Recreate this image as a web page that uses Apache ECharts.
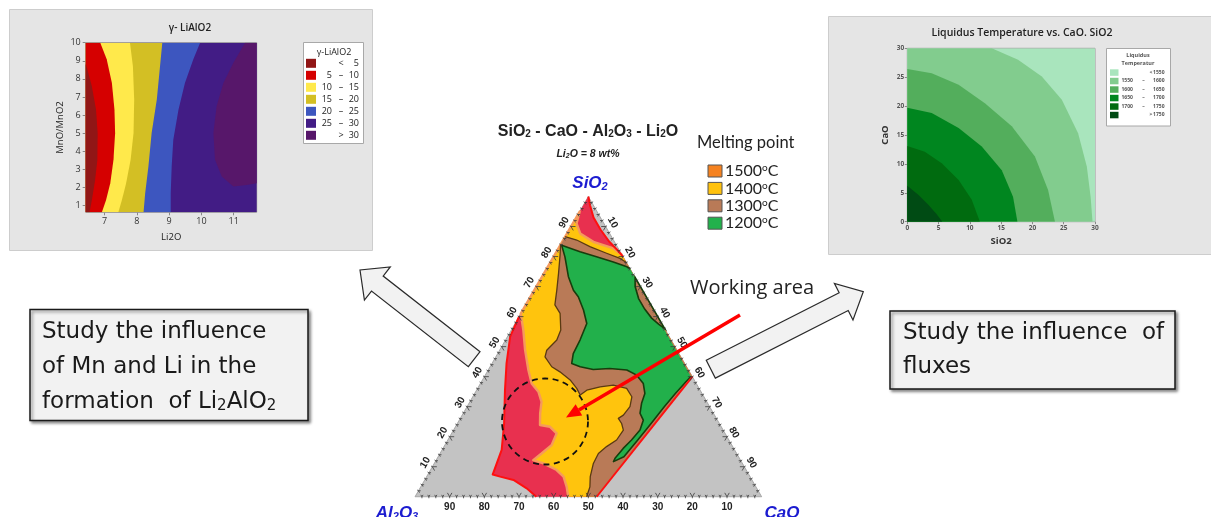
<!DOCTYPE html>
<html><head><meta charset="utf-8">
<script src="https://cdn.jsdelivr.net/npm/echarts@6/dist/echarts.min.js"></script>
<style>html,body{margin:0;padding:0;background:#fff}#c{width:1211px;height:517px}</style>
</head><body><div id="c"></div>
<script>
// ================= DATA =================
// Left panel: γ-LiAlO2 contour (x = Li2O, y = MnO/MnO2)
const liXRange = [6.42, 11.71];
const liYRange = [0.63, 10];
const liXTicks = [7, 8, 9, 10, 11];
const liYTicks = [1, 2, 3, 4, 5, 6, 7, 8, 9, 10];
const liLegend = [['', '<', '5'], ['5', '–', '10'], ['10', '–', '15'], ['15', '–', '20'], ['20', '–', '25'], ['25', '–', '30'], ['', '>', '30']];
const liColors = ['#911616', '#d50000', '#ffe94b', '#d3bf24', '#3d56bf', '#421c85', '#57176a'];
// contour boundaries [Li2O, MnO/MnO2], top to bottom
const li5  = [[6.43, 8.8], [6.61, 7.6], [6.74, 6.3], [6.79, 5.0], [6.78, 3.5], [6.71, 2.4], [6.61, 1.3], [6.54, 0.63]];
const li10 = [[6.87, 10], [7.07, 9.08], [7.23, 7.78], [7.31, 6.3], [7.33, 5.0], [7.28, 3.53], [7.18, 2.24], [7.05, 1.31], [6.92, 0.63]];
const li15 = [[7.79, 10], [7.88, 8.71], [7.92, 6.86], [7.90, 5.01], [7.81, 3.53], [7.67, 2.24], [7.54, 1.31], [7.43, 0.63]];
const li20 = [[8.79, 10], [8.72, 8.71], [8.62, 6.86], [8.46, 5.01], [8.36, 3.16], [8.26, 1.68], [8.21, 0.63]];
const li25 = [[9.96, 10], [9.75, 9.08], [9.49, 7.78], [9.29, 6.3], [9.13, 4.64], [9.08, 3.16], [9.05, 1.68], [9.05, 0.63]];
const li30 = [[11.35, 10], [10.99, 8.89], [10.68, 7.78], [10.47, 6.49], [10.37, 5.01], [10.42, 3.53], [10.63, 2.61], [10.99, 2.05], [11.40, 2.14], [11.71, 2.24]];

// Right panel: Liquidus temperature contour (x = SiO2, y = CaO)
const ltTicks = [0, 5, 10, 15, 20, 25, 30];
const ltLegend = [['', '<', '1550'], ['1550', '–', '1600'], ['1600', '–', '1650'], ['1650', '–', '1700'], ['1700', '–', '1750'], ['', '>', '1750']];
const ltColors = ['#a9e5bd', '#82cc8e', '#53ae5c', '#00861f', '#006b0f', '#004b14'];
const lt1550 = [[13.5, 30], [17.7, 28.0], [21.5, 25.1], [24.7, 21.1], [27.3, 15.3], [28.7, 9.5], [29.3, 4.3], [29.6, 0]];
const lt1600 = [[0, 26.4], [3.9, 25.7], [8.2, 23.7], [12.4, 20.5], [16.7, 16.5], [20.4, 11.3], [22.5, 5.5], [23.6, 0]];
const lt1650 = [[0, 19.7], [3.9, 18.8], [8.2, 16.2], [11.9, 13.0], [15.1, 8.9], [16.9, 4.3], [17.6, 0]];
const lt1700 = [[0, 13.1], [2.8, 12.1], [5.5, 10.1], [8.2, 7.2], [10.3, 3.8], [11.6, 0]];
const lt1750 = [[0, 6.2], [1.8, 4.6], [3.4, 2.9], [4.7, 1.3], [5.6, 0]];

// Ternary SiO2 - CaO - Al2O3 (Li2O = 8 wt%): points are [SiO2, CaO], Al2O3 = 100 - SiO2 - CaO
const ternTicks = [10, 20, 30, 40, 50, 60, 70, 80, 90];
const meltLegend = [['1500', '#f58220'], ['1400', '#ffc20e'], ['1300', '#b97a57'], ['1200', '#22b14c']];
const redApexCurve = [[100, 0], [97, 2], [93, 5], [89, 9], [85, 13.5], [82, 17.5], [80, 20]];
const redDiag = [[40, 60], [0, 52.4]];
const redLeftCurve = [[0, 35], [2.8, 30.8], [5.6, 25.6], [6.7, 21.2], [7.4, 18.7], [15.6, 17.2], [24.4, 13.5], [35.5, 8.2], [44.4, 4.2], [53.3, 0.8], [60, 0]];
const yellowCap = [[95, 0], [91, 1.1], [87.7, 3.8], [84.9, 9], [82.7, 15.9], [80.5, 19.5]];
const yellowLeft = [[0, 44.2], [3.3, 42.1], [6.7, 39.5], [8.9, 36.4], [11.1, 31.5], [12.2, 28], [14.4, 29.3], [17.2, 30.8], [21.1, 30.3], [23.3, 27.3], [23.9, 24.1], [27.8, 22.2], [31.6, 20.7], [35, 18.1], [37.7, 14.8], [42.2, 11.6], [48.9, 7.3], [55.5, 3.5], [61, 0]];
const brownTop = [[86.6, 0], [85.5, 3.9], [83.3, 8.8], [81.1, 14.7], [79.4, 19.4], [78, 22]];
const brownLeft = [[0, 49.5], [3.3, 48.8], [6.7, 47.2], [11.1, 45.9], [14.4, 45.7], [16.7, 46.9], [18.9, 48.7], [22.2, 49.0], [24.4, 47.4], [26.1, 45.6], [27.2, 46.5], [30, 47.0], [33.3, 45.9], [36.1, 43.0], [37.2, 38.6], [36.6, 35.1], [35.5, 31.8], [33.9, 30.7], [36.1, 28.6], [38.9, 25.3], [41.6, 21.0], [43.3, 17.8], [46.6, 14.2], [48.8, 13.6], [52.2, 14.8], [55.5, 14.3], [61.1, 11.3], [63.9, 8.4], [68.8, 6.5], [74.4, 4.2], [80.5, 1.6], [84, 0]];
const greenTop = [[83.8, 0.4], [81.6, 6.8], [79.9, 12.4], [78.2, 18.1], [76.6, 22.8], [76, 24]];
const greenRight = [[40, 59.6], [38.3, 59.0], [34.4, 57.9], [30, 56.9], [24.4, 55.9], [18.9, 54.8], [13.3, 53.6]];
const greenLeft = [[11.7, 51.4], [12.8, 51.3], [16.1, 52.0], [18.9, 53.0], [22.2, 53.8], [25.5, 53.1], [27.8, 51.0], [31.1, 49.8], [34.4, 49.1], [37.7, 47.0], [40.5, 43.7], [42.2, 40.0], [42.7, 34.8], [42.4, 30.2], [43.3, 26.0], [44.4, 23.0], [47.7, 21.8], [52.2, 21.5], [57.7, 20.7], [62.2, 17.5], [66.6, 13.8], [68.8, 11.3], [73.3, 7.6], [79.9, 3.3]];
const brownPatch = [[73, 27], [70, 28.5], [66, 31.5], [62.5, 35], [59.5, 38.5], [57.5, 41.5], [56, 44]];

// ================= HELPERS =================
const tern = q => [q[1] + q[0] / 2, q[0] * 0.8660254];
function polyS(grid, pts, style, z, map, type) {
  const m = map || (q => q);
  const c = m(pts[0]);
  return {
    type: 'custom', coordinateSystem: 'cartesian2d', xAxisIndex: grid, yAxisIndex: grid,
    z: z, silent: true, animation: false, clip: grid !== 1,
    data: [c],
    renderItem: (p, api) => ({
      type: type || 'polygon',
      shape: { points: pts.map(q => api.coord(m(q))) },
      style: style
    })
  };
}
const leftOf = (curve, xmin) => curve.concat([[xmin, curve[curve.length - 1][1]], [xmin, curve[0][1]]]);
const rect = (x0, x1, y0, y1) => [[x0, y0], [x1, y0], [x1, y1], [x0, y1]];

const series = [];
// --- left contour bands
series.push(polyS(0, rect(liXRange[0], liXRange[1], liYRange[0], liYRange[1]), { fill: liColors[5] }, 2));
series.push(polyS(0, leftOf(li25, liXRange[0]), { fill: liColors[4] }, 3));
series.push(polyS(0, leftOf(li20, liXRange[0]), { fill: liColors[3] }, 4));
series.push(polyS(0, leftOf(li15, liXRange[0]), { fill: liColors[2] }, 5));
series.push(polyS(0, leftOf(li10, liXRange[0]), { fill: liColors[1] }, 6));
series.push(polyS(0, leftOf(li5, liXRange[0]), { fill: liColors[0] }, 7));
series.push(polyS(0, li30.concat([[liXRange[1], liYRange[1]]]), { fill: liColors[6] }, 8));
// --- right contour bands
series.push(polyS(2, rect(0, 30, 0, 30), { fill: ltColors[0] }, 2));
series.push(polyS(2, lt1550.concat([[0, 0], [0, 30]]), { fill: ltColors[1] }, 3));
series.push(polyS(2, lt1600.concat([[0, 0]]), { fill: ltColors[2] }, 4));
series.push(polyS(2, lt1650.concat([[0, 0]]), { fill: ltColors[3] }, 5));
series.push(polyS(2, lt1700.concat([[0, 0]]), { fill: ltColors[4] }, 6));
series.push(polyS(2, lt1750.concat([[0, 0]]), { fill: ltColors[5] }, 7));
// --- ternary
const triangle = [[100, 0], [0, 100], [0, 0]];
series.push(polyS(1, triangle, { fill: '#c3c3c3', stroke: '#9a9a9a', lineWidth: 0.8 }, 2, tern));
series.push(polyS(1, redApexCurve.concat(redDiag, redLeftCurve), { fill: '#e8304f' }, 3, tern));
series.push(polyS(1, yellowCap.concat([redDiag[0], redDiag[1]], yellowLeft), { fill: '#ffc40d' }, 4, tern));
series.push(polyS(1, yellowLeft.concat(yellowCap), { fill: null, stroke: '#f59a5c', lineWidth: 2.4, lineJoin: 'round' }, 5, tern, 'polyline'));
series.push(polyS(1, brownTop.concat([redDiag[0], redDiag[1]], brownLeft), { fill: '#b97a57' }, 6, tern));
series.push(polyS(1, brownTop, { fill: null, stroke: '#5b3a12', lineWidth: 1.3 }, 7, tern, 'polyline'));
series.push(polyS(1, brownLeft, { fill: null, stroke: '#5b3a12', lineWidth: 1.3, lineJoin: 'round' }, 7, tern, 'polyline'));
series.push(polyS(1, greenTop.concat(greenRight, greenLeft), { fill: '#22b04b' }, 8, tern));
series.push(polyS(1, greenTop, { fill: null, stroke: '#173d0c', lineWidth: 1.6 }, 9, tern, 'polyline'));
series.push(polyS(1, greenRight.concat(greenLeft, [greenTop[0]]), { fill: null, stroke: '#173d0c', lineWidth: 1.6, lineJoin: 'round' }, 9, tern, 'polyline'));
series.push(polyS(1, brownPatch, { fill: '#b97a57', stroke: '#173d0c', lineWidth: 1.6 }, 10, tern));
series.push(polyS(1, redApexCurve, { fill: null, stroke: '#ff1010', lineWidth: 2 }, 11, tern, 'polyline'));
series.push(polyS(1, redLeftCurve, { fill: null, stroke: '#ff1010', lineWidth: 2, lineJoin: 'round' }, 11, tern, 'polyline'));
series.push(polyS(1, redDiag, { fill: null, stroke: '#ff1010', lineWidth: 2 }, 11, tern, 'polyline'));

// ternary axes: ticks and labels
series.push({
  type: 'custom', coordinateSystem: 'cartesian2d', xAxisIndex: 1, yAxisIndex: 1, z: 12, silent: true,
  animation: false, clip: false, data: [[50, 40]],
  renderItem: (p, api) => {
    const ch = [];
    const edges = [
      { pt: v => [0, 100 - v], dirs: [[0.5, -0.866], [-0.5, -0.866]], n: [0, 1], off: 10, rot: 0 },          // Al2O3 (bottom)
      { pt: v => [v, 0], dirs: [[1, 0], [0.5, 0.866]], n: [-0.866, -0.5], off: 8, rot: Math.PI / 3 },        // SiO2 (left)
      { pt: v => [100 - v, v], dirs: [[-1, 0], [-0.5, 0.866]], n: [0.866, -0.5], off: 8, rot: -Math.PI / 3 } // CaO (right)
    ];
    edges.forEach(e => {
      for (let v = 2; v < 100; v += 2) {
        const c = api.coord(tern(e.pt(v)));
        const L = v % 10 === 0 ? 4.5 : 2.2;
        e.dirs.forEach(d => ch.push({ type: 'line', shape: { x1: c[0], y1: c[1], x2: c[0] + d[0] * L, y2: c[1] + d[1] * L }, style: { stroke: '#3a3a3a', lineWidth: 0.8 } }));
        ch.push({ type: 'line', shape: { x1: c[0], y1: c[1], x2: c[0] + e.n[0] * 1.5, y2: c[1] + e.n[1] * 1.5 }, style: { stroke: '#3a3a3a', lineWidth: 0.8 } });
      }
      ternTicks.forEach(v => {
        const c = api.coord(tern(e.pt(v)));
        ch.push({ type: 'text', x: c[0] + e.n[0] * e.off, y: c[1] + e.n[1] * e.off, rotation: e.rot,
          style: { text: String(v), fill: '#222', font: 'bold 10px "Liberation Sans", Arial', align: 'center', verticalAlign: 'middle' } });
      });
    });
    return { type: 'group', children: ch };
  }
});

// ================= GRAPHIC (annotations, legends, boxes) =================
const G = [];
const txt = (x, y, text, font, fill, align, extra) => G.push(Object.assign({ type: 'text', x: x, y: y, z: 60,
  style: Object.assign({ text: text, font: font, fill: fill || '#1a1a1a', align: align || 'left', verticalAlign: 'middle' }, extra || {}) }));
function arrow(T, P, sw, hw, hl, style, z) {
  const dx = P[0] - T[0], dy = P[1] - T[1], L = Math.hypot(dx, dy);
  const u = [dx / L, dy / L], n = [-u[1], u[0]];
  const B = [P[0] - u[0] * hl, P[1] - u[1] * hl];
  const pt = (A, k) => [A[0] + n[0] * k, A[1] + n[1] * k];
  G.push({ type: 'polygon', z: z, shape: { points: [pt(T, sw / 2), pt(B, sw / 2), pt(B, hw / 2), P, pt(B, -hw / 2), pt(B, -sw / 2), pt(T, -sw / 2)] }, style: style });
}
// panel backgrounds
G.push({ type: 'rect', z: 0, shape: { x: 9.5, y: 9.5, width: 363, height: 241 }, style: { fill: '#e5e5e5', stroke: '#cdcdcd', lineWidth: 1 } });
G.push({ type: 'rect', z: 0, shape: { x: 828.5, y: 16.5, width: 390, height: 238 }, style: { fill: '#e5e5e5', stroke: '#cdcdcd', lineWidth: 1 } });
// left panel title + legend
txt(190, 28, 'γ- LiAlO2', '600 10px "Open Sans"', '#222', 'center');
G.push({ type: 'rect', z: 1, shape: { x: 303.5, y: 42.5, width: 60, height: 101 }, style: { fill: '#fff', stroke: '#a8a8a8', lineWidth: 1 } });
txt(334, 52, 'γ-LiAlO2', '9px "Open Sans"', '#222', 'center');
liLegend.forEach((r, i) => {
  const y = 63.3 + i * 12;
  G.push({ type: 'rect', z: 2, shape: { x: 306, y: y - 4.5, width: 10, height: 9 }, style: { fill: liColors[i] } });
  txt(332, y, r[0], '9px "Open Sans"', '#222', 'right');
  txt(341, y, r[1], '9px "Open Sans"', '#222', 'center');
  txt(359, y, r[2], '9px "Open Sans"', '#222', 'right');
});
// right panel title + legend
txt(1022, 33, 'Liquidus Temperature vs. CaO. SiO2', '600 10.5px "Open Sans"', '#222', 'center');
G.push({ type: 'rect', z: 1, shape: { x: 1106.5, y: 48.5, width: 64, height: 77.5 }, style: { fill: '#fff', stroke: '#a8a8a8', lineWidth: 1 } });
txt(1138, 55, 'Liquidus', 'bold 5.5px "Open Sans"', '#555', 'center');
txt(1138, 63, 'Temperatur', 'bold 5.5px "Open Sans"', '#555', 'center');
ltLegend.forEach((r, i) => {
  const y = 72.3 + i * 8.5;
  G.push({ type: 'rect', z: 2, shape: { x: 1110, y: y - 3, width: 8.5, height: 6.5 }, style: { fill: ltColors[i] } });
  txt(1121.5, y, r[0], 'bold 5px "Open Sans"', '#555', 'left');
  txt(r[0] ? 1143.5 : 1151, y, r[1], 'bold 5px "Open Sans"', '#555', 'center');
  txt(1164.5, y, r[2], 'bold 5px "Open Sans"', '#555', 'right');
});
// ternary title
G.push({ type: 'text', x: 588, y: 131.5, z: 60, style: { text: '{b|SiO}{s|2}{b| - CaO - Al}{s|2}{b|O}{s|3}{b| - Li}{s|2}{b|O}', align: 'center', verticalAlign: 'middle',
  rich: { b: { font: 'bold 16px "Liberation Sans", Arial', fill: '#222' }, s: { font: 'bold 10px "Liberation Sans", Arial', fill: '#222', verticalAlign: 'bottom', padding: [6, 0, 0, 0] } } } });
G.push({ type: 'text', x: 588, y: 154, z: 60, style: { text: '{b|Li}{s|2}{b|O = 8 wt%}', align: 'center', verticalAlign: 'middle',
  rich: { b: { font: 'italic bold 10.5px "Liberation Sans", Arial', fill: '#222' }, s: { font: 'italic bold 7px "Liberation Sans", Arial', fill: '#222', verticalAlign: 'bottom', padding: [4, 0, 0, 0] } } } });
// vertex labels
const vstyle = (t) => ({ text: t, align: 'center', verticalAlign: 'middle',
  rich: { b: { font: 'italic bold 17px "Liberation Sans", Arial', fill: '#1c1cd0' }, s: { font: 'italic bold 11px "Liberation Sans", Arial', fill: '#1c1cd0', verticalAlign: 'bottom', padding: [7, 0, 0, 0] } } });
G.push({ type: 'text', x: 590, y: 183, z: 60, style: vstyle('{b|SiO}{s|2}') });
G.push({ type: 'text', x: 397, y: 513, z: 60, style: vstyle('{b|Al}{s|2}{b|O}{s|3}') });
G.push({ type: 'text', x: 782, y: 513, z: 60, style: vstyle('{b|CaO}') });
// melting point legend
txt(697, 143, 'Melting point', '16.5px Lato', '#222', 'left');
meltLegend.forEach((m, i) => {
  const y = 171 + i * 17.4;
  G.push({ type: 'rect', z: 60, shape: { x: 708, y: y - 6, width: 14, height: 12 }, style: { fill: m[1], stroke: '#555', lineWidth: 1 } });
  G.push({ type: 'text', x: 725, y: y, z: 60, style: { text: '{t|' + m[0] + '}{o|o}{t|C}', align: 'left', verticalAlign: 'middle',
    rich: { t: { font: '16px Lato', fill: '#222' }, o: { font: '10px Lato', fill: '#222', verticalAlign: 'top', padding: [0, 0, 6, 0] } } } });
});
// working area annotation
txt(690, 288, 'Working area', '20px "Open Sans"', '#222', 'left');
(function () {
  const S = [740, 315], P = [566, 417.5];
  const dx = P[0] - S[0], dy = P[1] - S[1], L = Math.hypot(dx, dy), u = [dx / L, dy / L], n = [-u[1], u[0]];
  const B = [P[0] - u[0] * 15, P[1] - u[1] * 15];
  G.push({ type: 'line', z: 70, shape: { x1: S[0], y1: S[1], x2: B[0], y2: B[1] }, style: { stroke: '#ff0000', lineWidth: 3.5 } });
  G.push({ type: 'polygon', z: 70, shape: { points: [P, [B[0] + n[0] * 6.5, B[1] + n[1] * 6.5], [B[0] - n[0] * 6.5, B[1] - n[1] * 6.5]] }, style: { fill: '#ff0000' } });
})();
G.push({ type: 'circle', z: 65, shape: { cx: 545, cy: 421.5, r: 43 }, style: { fill: null, stroke: '#111', lineWidth: 1.8, lineDash: [6, 4.5] } });
// big hollow arrows
const arrowStyle = { fill: '#f2f2f2', stroke: '#2a2a2a', lineWidth: 1.2 };
arrow([474.2, 359.2], [360, 270], 19, 42, 22, arrowStyle, 40);
arrow([710.8, 369.2], [863.3, 291.7], 20, 41, 22, arrowStyle, 40);
// text boxes
const boxStyle = { fill: '#f2f2f2', stroke: '#1a1a1a', lineWidth: 1.5, shadowBlur: 3, shadowOffsetX: 2, shadowOffsetY: 2, shadowColor: 'rgba(0,0,0,0.45)' };
G.push({ type: 'rect', z: 40, shape: { x: 30, y: 309.5, width: 278, height: 111 }, style: boxStyle });
G.push({ type: 'rect', z: 40, shape: { x: 890, y: 311, width: 285, height: 78 }, style: boxStyle });
const bf = '23px "DejaVu Sans"';
txt(42, 332, 'Study the influence', bf);
txt(42, 367, 'of Mn and Li in the', bf);
G.push({ type: 'text', x: 42, y: 402, z: 60, style: { text: '{n|formation  of Li}{s|2}{n|AlO}{s|2}', align: 'left', verticalAlign: 'middle',
  rich: { n: { font: bf, fill: '#1a1a1a' }, s: { font: '15px "DejaVu Sans"', fill: '#1a1a1a', verticalAlign: 'bottom', padding: [9, 0, 0, 0] } } } });
txt(903, 333, 'Study the influence  of', bf);
txt(903, 367, 'fluxes', bf);

// ================= OPTION =================
const axisTxt = { color: '#333', fontSize: 9, fontFamily: 'Open Sans' };
const option = {
  animation: false,
  backgroundColor: '#ffffff',
  grid: [
    { left: 85.7, top: 42.7, width: 171, height: 169.6, show: true, borderColor: '#9a9a9a', borderWidth: 1, backgroundColor: 'transparent', z: 1 },
    { left: 415, top: 196.5, width: 346.7, height: 300.25, show: false },
    { left: 907.3, top: 48.3, width: 187.7, height: 173.4, show: true, borderColor: '#9a9a9a', borderWidth: 1, backgroundColor: 'transparent', z: 1 }
  ],
  xAxis: [
    { gridIndex: 0, type: 'value', min: liXRange[0], max: liXRange[1], splitNumber: 5, splitLine: { show: false }, axisLine: { show: false },
      axisTick: { show: true, length: 3, lineStyle: { color: '#888' }, customValues: liXTicks },
      axisLabel: Object.assign({ margin: 5, customValues: liXTicks }, axisTxt),
      name: 'Li2O', nameLocation: 'middle', nameGap: 20, nameTextStyle: { color: '#222', fontSize: 9.5, fontFamily: 'Open Sans' } },
    { gridIndex: 1, type: 'value', min: 0, max: 100, show: false },
    { gridIndex: 2, type: 'value', min: 0, max: 30, interval: 5, splitLine: { show: false }, axisLine: { show: false },
      axisTick: { show: true, length: 2.5, lineStyle: { color: '#888' } },
      axisLabel: { margin: 3, color: '#555', fontSize: 6.5, fontFamily: 'Open Sans', fontWeight: 'bold' },
      name: 'SiO2', nameLocation: 'middle', nameGap: 15, nameTextStyle: { color: '#333', fontSize: 9.5, fontFamily: 'Open Sans', fontWeight: 'bold' } }
  ],
  yAxis: [
    { gridIndex: 0, type: 'value', min: liYRange[0], max: liYRange[1], splitNumber: 9, splitLine: { show: false }, axisLine: { show: false },
      axisTick: { show: true, length: 3, lineStyle: { color: '#888' }, customValues: liYTicks },
      axisLabel: Object.assign({ margin: 5, customValues: liYTicks }, axisTxt),
      name: 'MnO/MnO2', nameLocation: 'middle', nameGap: 20, nameTextStyle: { color: '#222', fontSize: 9.5, fontFamily: 'Open Sans' } },
    { gridIndex: 1, type: 'value', min: 0, max: 86.60254, show: false },
    { gridIndex: 2, type: 'value', min: 0, max: 30, interval: 5, splitLine: { show: false }, axisLine: { show: false },
      axisTick: { show: true, length: 2.5, lineStyle: { color: '#888' } },
      axisLabel: { margin: 3, color: '#555', fontSize: 6.5, fontFamily: 'Open Sans', fontWeight: 'bold' },
      name: 'CaO', nameLocation: 'middle', nameGap: 17, nameTextStyle: { color: '#333', fontSize: 9.5, fontFamily: 'Open Sans', fontWeight: 'bold' } }
  ],
  graphic: { elements: G },
  series: series
};
const chart = echarts.init(document.getElementById('c'), null, { renderer: 'canvas' });
chart.setOption(option);
</script></body></html>
